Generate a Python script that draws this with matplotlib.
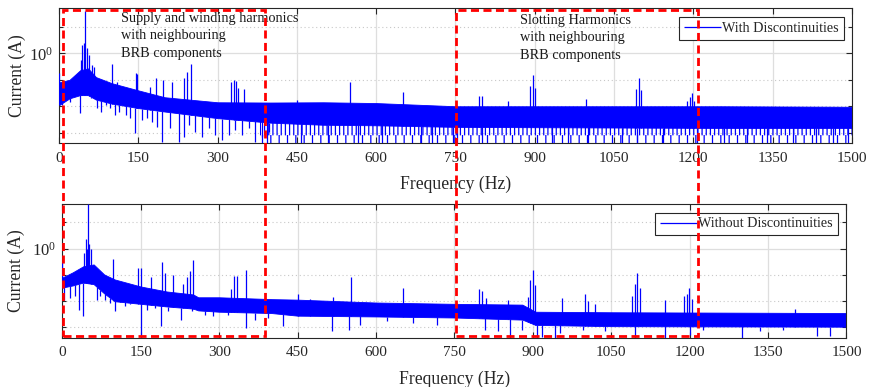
import numpy as np
import matplotlib
matplotlib.use("Agg")
import matplotlib.pyplot as plt
from matplotlib.ticker import FixedLocator, NullFormatter, LogFormatterSciNotation
from matplotlib.patches import Rectangle

plt.rcParams['font.family'] = ['Liberation Serif', 'DejaVu Serif']
plt.rcParams['mathtext.fontset'] = 'custom'
plt.rcParams['mathtext.rm'] = 'Liberation Serif'
plt.rcParams['mathtext.it'] = 'Liberation Serif:italic'
plt.rcParams['hatch.linewidth'] = 0.9

# ---------------- data (log10 of current) ----------------
# Top: With Discontinuities
env_f_top = [0, 20, 40, 55, 70, 100, 150, 200, 300, 400, 500, 600, 750, 1000, 1250, 1500]
upper_top = [-1.1, -1.0, -0.64, -0.57, -0.9, -1.13, -1.4, -1.66, -1.85, -1.86, -1.85, -1.88, -2.0, -2.0, -2.0, -2.02]
lower_top = [-1.96, -1.7, -1.58, -1.58, -1.75, -1.9, -2.07, -2.2, -2.45, -2.62, -2.7, -2.72, -2.78, -2.8, -2.82, -2.82]
speck_f_top = [380, 1500]
speck_mid_top = [-3.1, -3.1]

peak_f_top = [0, 40.7, 43.8, 47, 50, 53.3, 56.4, 62, 66, 100, 110, 145, 148, 173, 183, 196, 214,
              236, 242, 250, 326, 331, 334, 339, 350, 450, 550, 650, 795, 801, 850, 890, 897,
              901, 997, 1091, 1097, 1100, 1187, 1193, 1198, 1202]
peak_v_top = [-0.75, -0.25, 0.31, 0.38, 1.58, 0.19, -0.06, -0.45, -0.5, -0.42, -1.1, -0.75, -0.8,
              -1.28, -0.94, -1.0, -1.1, -0.94, -0.72, -0.42, -1.09, -1.0, -1.05, -1.3, -1.35,
              -1.75, -1.09, -1.47, -1.62, -1.6, -1.8, -1.25, -0.83, -1.32, -1.74, -1.33, -0.92,
              -1.4, -1.8, -1.66, -1.5, -1.8]

dip_f_top = [6, 21.7, 38.8, 60.8, 72.2, 78.5, 88, 97.4, 105.6, 113, 125.8, 135, 144.7, 157,
             166.7, 176, 185.6, 195, 210.9, 226.6, 236, 245.5, 258, 270.7, 283.3, 296, 308.5,
             321, 333.8, 346, 359, 371.6, 384, 396.8]
dip_v_top = [-1.95, -1.83, -2.26, -1.7, -2.08, -2.2, -1.95, -2.08, -2.33, -2.2, -2.33, -2.45,
             -3.02, -2.52, -2.45, -2.58, -2.77, -3.34, -2.83, -3.34, -3.15, -2.7, -2.96, -3.15,
             -2.83, -3.08, -3.27, -3.08, -2.9, -3.08, -2.83, -3.34, -3.15, -2.96]
deep_f_top = [394, 457, 508, 565, 611, 684, 706, 746, 752, 801, 932, 963, 1000, 1065, 1094,
              1143, 1207, 1257, 1301, 1339, 1389, 1431, 1464, 1493]

# Bottom: Without Discontinuities
env_f_bot = [0, 20, 40, 60, 80, 100, 150, 200, 250, 260, 300, 400, 450, 600, 750, 880, 905, 1050, 1500]
upper_bot = [-1.1, -0.9, -0.67, -0.6, -0.98, -1.17, -1.44, -1.63, -1.74, -1.85, -1.85, -1.92, -1.94,
             -2.05, -2.1, -2.13, -2.4, -2.42, -2.45]
lower_bot = [-1.48, -1.4, -1.29, -1.35, -1.7, -2.0, -2.1, -2.2, -2.28, -2.35, -2.4, -2.45, -2.55,
             -2.58, -2.62, -2.7, -2.9, -2.95, -2.97]

peak_f_bot = [0, 42.1, 44.7, 46.6, 49.2, 51.7, 54.2, 97.6, 144, 150.6, 170, 190, 196.5, 212,
              231.6, 238, 244.3, 250.7, 322.8, 329, 333.6, 350.8, 451.6, 474, 518, 552, 651,
              798, 802, 810, 852, 891.5, 895, 900, 905, 955, 1000, 1006, 1019, 1089, 1096,
              1100, 1105, 1153, 1190, 1194.5, 1199.5, 1204, 1402]
peak_v_bot = [-0.52, -0.15, 0.35, -0.03, 1.69, 0.16, -0.03, -0.41, -0.72, -0.75, -1.06, -0.51,
              -0.93, -1.02, -1.36, -1.06, -0.85, -0.43, -1.52, -1.04, -1.04, -0.83, -1.71, -1.9,
              -1.85, -1.07, -1.49, -1.55, -1.6, -1.86, -1.94, -1.83, -1.2, -0.83, -1.37, -1.87,
              -1.71, -2.0, -2.1, -1.81, -1.36, -0.92, -1.49, -1.95, -1.81, -1.74, -1.49, -1.9,
              -2.28]

dip_f_bot = [4, 14.7, 24.3, 32, 39, 65.7, 72, 81.7, 91, 100.8, 110, 120, 129.5, 150.5, 161.4,
             177, 188.8, 202.9, 227, 247.5, 273, 289, 317.7, 351.5, 368.6, 394, 422.8, 515,
             549, 569.6, 621.8, 671.6, 716, 808.7, 834, 856.5, 879, 907.6, 917, 942.6, 952,
             996.8, 1038, 1095.6, 1153, 1201, 1226, 1300, 1335, 1379, 1443, 1469]
dip_v_bot = [-1.94, -1.87, -1.81, -2.32, -2.55, -1.94, -1.81, -1.94, -2.06, -2.38, -2.0, -2.19,
             -2.12, -3.4, -2.32, -2.25, -2.93, -2.38, -2.7, -2.38, -2.51, -2.57, -2.51, -3.02,
             -2.7, -2.64, -2.95, -3.14, -3.08, -2.9, -2.76, -2.83, -2.9, -3.08, -3.14, -3.4,
             -3.08, -3.4, -3.35, -3.4, -3.2, -3.08, -3.14, -3.4, -3.4, -3.27, -3.08, -3.4,
             -3.14, -3.08, -3.33, -3.33]

x_ticks = [0, 150, 300, 450, 600, 750, 900, 1050, 1200, 1350, 1500]
labels = ['With Discontinuities', 'Without Discontinuities']

# ---------------- drawing ----------------
BLUE = '#0000FF'
fig = plt.figure(figsize=(8.7, 3.87), dpi=100)
ax1 = fig.add_axes([59/870, 1-143.3/387, (852-59)/870, (143.3-8.3)/387])
ax2 = fig.add_axes([62.3/870, 1-338/387, (846.5-62.3)/870, (338-204)/387])

YMIN, YMAX = 10**-3.4, 10**1.7


def draw(ax, ef, up, lo, pf, pv, df, dv, deep, label, speck=None):
    ef = np.asarray(ef, float)
    ax.fill_between(ef, 10**np.asarray(lo), 10**np.asarray(up), color=BLUE, lw=0.6, zorder=2)
    if speck is not None:
        sf, sm = np.asarray(speck[0], float), np.asarray(speck[1], float)
        lo_s = np.interp(sf, ef, lo)
        ax.fill_between(sf, 10**sm, 10**lo_s, facecolor='none', edgecolor=BLUE, lw=0,
                        hatch='||||', zorder=2)
        ax.fill_between(sf, np.full(sf.shape, YMIN), 10**sm, facecolor='none', edgecolor=BLUE,
                        lw=0, hatch='||', zorder=2)
    pf = np.asarray(pf, float)
    base = 10**np.interp(pf, ef, lo)
    ax.vlines(pf, base, 10**np.asarray(pv), color=BLUE, lw=0.9, zorder=3, label=label)
    df = np.asarray(df, float)
    ax.vlines(df, 10**np.asarray(dv), 10**np.interp(df, ef, lo), color=BLUE, lw=0.9, zorder=3)
    if deep is not None:
        deep = np.asarray(deep, float)
        ax.vlines(deep, np.full(deep.shape, YMIN), 10**np.interp(deep, ef, lo), color=BLUE,
                  lw=0.9, zorder=3)

    ax.set_yscale('log')
    ax.set_xlim(0, 1500)
    ax.set_ylim(YMIN, YMAX)
    ax.set_xticks(x_ticks)
    ax.yaxis.set_major_locator(FixedLocator([1.0]))
    ax.yaxis.set_major_formatter(LogFormatterSciNotation())
    ax.yaxis.set_minor_locator(FixedLocator([1e-3, 1e-2, 1e-1, 1e1]))
    ax.yaxis.set_minor_formatter(NullFormatter())
    ax.grid(True, which='major', color='#dedede', lw=0.9, ls='-', zorder=0)
    ax.grid(True, which='minor', axis='y', color='#c8c8c8', lw=0.8, ls=(0, (1, 2.5)), zorder=0)
    ax.set_axisbelow(True)
    ax.tick_params(which='both', direction='in', top=True, right=True, colors='#262626',
                   labelsize=11, width=0.8, labelcolor='#262626')
    ax.tick_params(which='major', length=4.5, pad=6)
    ax.tick_params(axis='y', which='major', labelsize=12, pad=4.5)
    ax.tick_params(which='minor', length=3)
    for s in ax.spines.values():
        s.set_color('#262626')
        s.set_linewidth(0.8)
    ax.set_xlabel('Frequency (Hz)', fontsize=12.7, labelpad=8, color='#262626')
    ax.set_ylabel('Current (A)', fontsize=12.7, color='#262626')
    leg = ax.legend(loc='upper right', fontsize=10.2, frameon=True, fancybox=False,
                    framealpha=1, edgecolor='#262626', handlelength=2.6, borderpad=0.35,
                    handletextpad=0.1, borderaxespad=0.6)
    leg.get_frame().set_linewidth(0.8)
    for t in leg.get_texts():
        t.set_color('#262626')


draw(ax1, env_f_top, upper_top, lower_top, peak_f_top, peak_v_top,
     dip_f_top, dip_v_top, deep_f_top, labels[0], speck=(speck_f_top, speck_mid_top))
draw(ax2, env_f_bot, upper_bot, lower_bot, peak_f_bot, peak_v_bot,
     dip_f_bot, dip_v_bot, None, labels[1])

ax1.yaxis.set_label_coords(-0.042, 0.5)
ax2.yaxis.set_label_coords(-0.047, 0.5)

# Red dashed highlight boxes (figure coordinates)
for (x0, x1) in [(63, 265), (456, 698)]:
    r = Rectangle((x0/870, 1-336/387), (x1-x0)/870, (336-10)/387, transform=fig.transFigure,
                  fill=False, edgecolor='#FF0000', lw=2.0, ls=(0, (2.9, 1.6)), zorder=10,
                  clip_on=False)
    fig.patches.append(r)

fig.text(121/870, 1-12/387, 'Supply and winding harmonics\nwith neighbouring\nBRB components',
         fontsize=10.3, va='top', ha='left', color='#1a1a1a', linespacing=1.45)
fig.text(520/870, 1-14/387, 'Slotting Harmonics\nwith neighbouring\nBRB components',
         fontsize=10.3, va='top', ha='left', color='#1a1a1a', linespacing=1.45)

fig.savefig('out.png', dpi=100)
